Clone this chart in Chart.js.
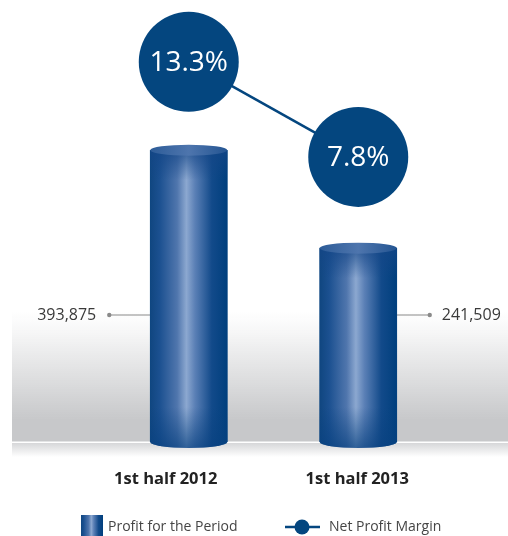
<!DOCTYPE html>
<html>
<head>
<meta charset="utf-8">
<script src="https://cdn.jsdelivr.net/npm/chart.js@4/dist/chart.umd.min.js"></script>
<style>
  html, body { margin: 0; padding: 0; background: #ffffff; }
  #wrap { width: 508px; height: 536px; position: relative; }
</style>
</head>
<body>
<div id="wrap"><canvas id="c"></canvas></div>
<script>
const categories = ['1st half 2012', '1st half 2013'];
const profitValues = [393875, 241509];
const profitLabels = ['393,875', '241,509'];
const marginValues = [13.3, 7.8];
const marginLabels = ['13.3%', '7.8%'];
const seriesNames = ['Profit for the Period', 'Net Profit Margin'];

const Y_MIN = -60000, Y_MAX = 612000;
const Y1_MIN = -8.7, Y1_MAX = 16.3;

const FONT = '"Open Sans", "Noto Sans", sans-serif';
const BLUE = '#04467f';

function barGradient(ctx, x0, x1) {
  const g = ctx.createLinearGradient(x0, 0, x1, 0);
  g.addColorStop(0, '#104680');
  g.addColorStop(0.12, '#1b5090');
  g.addColorStop(0.35, '#5076ad');
  g.addColorStop(0.47, '#8ca8d0');
  g.addColorStop(0.58, '#5b80b6');
  g.addColorStop(0.8, '#124a8a');
  g.addColorStop(1, '#003f7d');
  return g;
}

const decorPlugin = {
  id: 'decor',
  beforeDatasetsDraw(chart) {
    const ctx = chart.ctx;
    const base = chart.scales.y.getPixelForValue(Y_MIN);
    ctx.save();
    // gray floor panel
    let g = ctx.createLinearGradient(0, 312, 0, 420);
    g.addColorStop(0, 'rgba(200,201,203,0)');
    g.addColorStop(0.15, 'rgba(200,201,203,0.12)');
    g.addColorStop(1, 'rgba(199,200,202,1)');
    ctx.fillStyle = g;
    ctx.fillRect(12, 312, 496, base - 312);
    // lower band
    g = ctx.createLinearGradient(0, base, 0, base + 15);
    g.addColorStop(0, '#d3d4d6');
    g.addColorStop(1, 'rgba(255,255,255,1)');
    ctx.fillStyle = g;
    ctx.fillRect(12, base, 496, 15);
    // white base line
    ctx.fillStyle = '#ffffff';
    ctx.fillRect(12, base - 0.5, 496, 1.5);

    // leader lines and value labels
    const meta = chart.getDatasetMeta(1);
    const ly = 315;
    ctx.strokeStyle = '#8a8a8a';
    ctx.fillStyle = '#8a8a8a';
    ctx.lineWidth = 1.2;
    meta.data.forEach((el, i) => {
      const half = el.width / 2;
      const left = i === 0;
      const edge = left ? el.x - half : el.x + half;
      const dotX = left ? edge - 41 : edge + 33;
      ctx.beginPath();
      ctx.moveTo(edge, ly);
      ctx.lineTo(dotX, ly);
      ctx.stroke();
      ctx.beginPath();
      ctx.arc(dotX, ly, 2.2, 0, Math.PI * 2);
      ctx.fill();
      ctx.save();
      ctx.fillStyle = '#3a3a3a';
      ctx.font = '16px ' + FONT;
      ctx.textBaseline = 'middle';
      ctx.textAlign = left ? 'right' : 'left';
      ctx.fillText(profitLabels[i], left ? dotX - 13 : dotX + 12, ly);
      ctx.restore();
    });
    ctx.restore();
  },
  afterDatasetDraw(chart, args) {
    if (args.index !== 1) return;
    const ctx = chart.ctx;
    ctx.save();
    args.meta.data.forEach((el) => {
      const x0 = el.x - el.width / 2, x1 = el.x + el.width / 2;
      const top = el.y, base = el.base;
      const rx = el.width / 2, ry = 6;
      // body
      ctx.fillStyle = barGradient(ctx, x0, x1);
      ctx.fillRect(x0, top, x1 - x0, base - top);
      // bottom cap
      ctx.beginPath();
      ctx.ellipse(el.x, base, rx, ry, 0, 0, Math.PI);
      ctx.fill();
      // top and bottom darkening
      let v = ctx.createLinearGradient(0, top, 0, top + 30);
      v.addColorStop(0, 'rgba(20,70,135,0.75)');
      v.addColorStop(1, 'rgba(20,70,135,0)');
      ctx.fillStyle = v;
      ctx.fillRect(x0, top, x1 - x0, 30);
      v = ctx.createLinearGradient(0, base - 35, 0, base + ry);
      v.addColorStop(0, 'rgba(8,65,128,0)');
      v.addColorStop(1, 'rgba(8,65,128,0.7)');
      ctx.fillStyle = v;
      ctx.beginPath();
      ctx.rect(x0, base - 35, x1 - x0, 35);
      ctx.fill();
      ctx.beginPath();
      ctx.ellipse(el.x, base, rx, ry, 0, 0, Math.PI);
      ctx.fill();
      // top cap
      ctx.beginPath();
      ctx.ellipse(el.x, top, rx, ry - 0.5, 0, 0, Math.PI * 2);
      const tg = ctx.createLinearGradient(x0, 0, x1, 0);
      tg.addColorStop(0, '#2d5c98');
      tg.addColorStop(0.5, '#4e75ad');
      tg.addColorStop(1, '#245592');
      ctx.fillStyle = tg;
      ctx.fill();
    });
    ctx.restore();
  },
  afterDatasetsDraw(chart) {
    const ctx = chart.ctx;
    ctx.save();
    // circle labels
    const lm = chart.getDatasetMeta(0);
    ctx.fillStyle = '#ffffff';
    ctx.font = '28px ' + FONT;
    ctx.textAlign = 'center';
    ctx.textBaseline = 'middle';
    lm.data.forEach((p, i) => {
      ctx.fillText(marginLabels[i], p.x, p.y + 1);
    });
    // category labels
    const shifts = [-23, -1];
    ctx.fillStyle = '#222222';
    ctx.font = 'bold 16.5px ' + FONT;
    categories.forEach((c, i) => {
      const x = chart.scales.x.getPixelForValue(i) + shifts[i];
      ctx.fillText(c, x, 479);
    });
    // legend
    const ly = 527;
    ctx.fillStyle = barGradient(ctx, 81, 103);
    ctx.fillRect(81, 515, 22, 22);
    ctx.fillStyle = '#454545';
    ctx.font = '14px ' + FONT;
    ctx.textAlign = 'left';
    ctx.fillText(seriesNames[0], 108, ly);
    ctx.strokeStyle = BLUE;
    ctx.lineWidth = 2.5;
    ctx.beginPath();
    ctx.moveTo(285, ly);
    ctx.lineTo(320, ly);
    ctx.stroke();
    ctx.fillStyle = BLUE;
    ctx.beginPath();
    ctx.arc(302, ly, 7.5, 0, Math.PI * 2);
    ctx.fill();
    ctx.fillStyle = '#454545';
    ctx.fillText(seriesNames[1], 329, ly);
    ctx.restore();
  }
};

new Chart(document.getElementById('c'), {
  type: 'bar',
  data: {
    labels: categories,
    datasets: [
      {
        type: 'line',
        label: seriesNames[1],
        data: marginValues,
        yAxisID: 'y1',
        order: 1,
        borderColor: BLUE,
        borderWidth: 2.5,
        pointRadius: 50,
        pointHoverRadius: 50,
        pointBackgroundColor: BLUE,
        pointBorderWidth: 0,
        tension: 0,
        clip: false
      },
      {
        type: 'bar',
        label: seriesNames[0],
        data: profitValues,
        yAxisID: 'y',
        order: 2,
        base: Y_MIN,
        barThickness: 77,
        backgroundColor: '#0b4784',
        borderWidth: 0
      }
    ]
  },
  options: {
    responsive: true,
    maintainAspectRatio: false,
    animation: false,
    events: [],
    layout: { autoPadding: false, padding: { left: 104, right: 65, top: 10, bottom: 94 } },
    plugins: { legend: { display: false }, tooltip: { enabled: false } },
    scales: {
      x: { display: false, offset: true },
      y: { display: false, min: Y_MIN, max: Y_MAX },
      y1: { display: false, min: Y1_MIN, max: Y1_MAX, position: 'right' }
    }
  },
  plugins: [decorPlugin]
});
</script>
</body>
</html>
